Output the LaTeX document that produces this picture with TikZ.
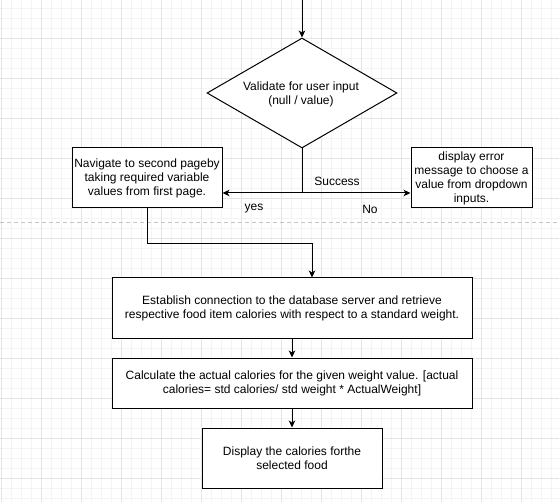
\documentclass[tikz,border=0pt]{standalone}
\usepackage{fontspec}
\setmainfont{Liberation Sans}
\usetikzlibrary{shapes.geometric,arrows.meta}
\definecolor{gridminor}{HTML}{F4F4F4}
\definecolor{gridmajor}{HTML}{E4E4E4}
\definecolor{sepline}{HTML}{C4C4C4}
\tikzset{
  stepbox/.style={draw=black,line width=1pt,fill=white,align=center,inner sep=0pt,
    font=\fontsize{12}{14}\selectfont},
  decision/.style={stepbox,shape=diamond,aspect=1.727},
  arr/.style={draw=black,line width=1pt,-{Stealth[length=7pt,width=6.5pt,inset=2pt]}},
  lbl/.style={font=\fontsize{12}{14}\selectfont,inner sep=0pt}
}
\begin{document}
\begin{tikzpicture}[x=1pt,y=-1pt]
\useasboundingbox (0,0) rectangle (559,502);
% grid
\foreach \i in {0,...,55} {\draw[gridminor,line width=0.8pt] (1+10*\i,0) -- (1+10*\i,502);}
\foreach \j in {0,...,50} {\draw[gridminor,line width=0.8pt] (0,8+10*\j) -- (559,8+10*\j);}
\foreach \i in {0,...,13} {\draw[gridmajor,line width=0.8pt] (1+40*\i,0) -- (1+40*\i,502);}
\foreach \j in {0,...,12} {\draw[gridmajor,line width=0.8pt] (0,-2+40*\j) -- (559,-2+40*\j);}
% separator
\draw[sepline,line width=1pt,dash pattern=on 4pt off 3pt] (0,223) -- (559,223);

% nodes
\coordinate (start) at (302,-2);
\node[decision,minimum width=190pt,minimum height=110pt] (d) at (302,93) {};
\node[lbl,align=center] (dtext) at (301,94) {Validate for user input\\(null / value)};
\node[stepbox,minimum width=150pt,minimum height=60pt] (nav) at (147,178)
  {Navigate to second pageby\\taking required variable\\values from first page.};
\node[stepbox,minimum width=121pt,minimum height=60pt] (err) at (471.5,178)
  {display error\\message to choose a\\value from dropdown\\inputs.};
\node[stepbox,minimum width=360pt,minimum height=60pt] (est) at (292,308)
  {Establish connection to the database server and retrieve\\respective food item calories with respect to a standard weight.};
\node[stepbox,minimum width=360pt,minimum height=50pt] (calc) at (292,383)
  {Calculate the actual calories for the given weight value. [actual\\calories= std calories/ std weight * ActualWeight]};
\node[stepbox,minimum width=180pt,minimum height=60pt] (disp) at (292,458)
  {Display the calories forthe\\selected food};

% connectors
\draw[arr] (start) -- (d.north);
\draw[arr] (d.south) |- ([yshift=-15pt]nav.east);
\draw[arr] (d.south) |- ([yshift=-15pt]err.west);
\draw[arr] (nav.south) -- ++(0,35) -| ([xshift=20pt]est.north);
\draw[arr] (est.south) -- (calc.north);
\draw[arr] (calc.south) -- (disp.north);

% labels
\node[lbl] (lsuccess) at (337,181) {Success};
\node[lbl] (lyes) at (254,209) {yes};
\node[lbl] (lno) at (370,209) {No};
\end{tikzpicture}
\end{document}
